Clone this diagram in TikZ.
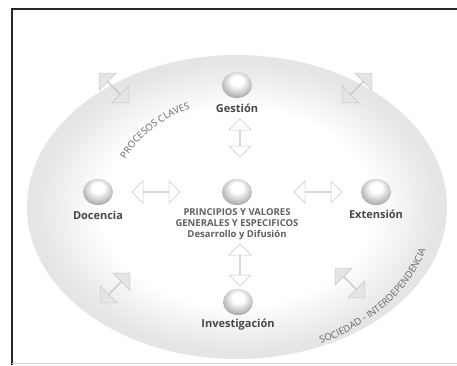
\documentclass[tikz,border=0pt]{standalone}
\usepackage{fontspec}
\setmainfont{Open Sans}
\usetikzlibrary{positioning,shapes.geometric,shapes.arrows,decorations.text}

% sphere highlight: white cap on top, grey towards the rim
\pgfdeclareradialshading{sphere}{\pgfpoint{0bp}{10bp}}{%
  color(0bp)=(white); color(10bp)=(white); color(24bp)=(gray!50);
  color(32bp)=(gray!80); color(50bp)=(gray!85)}
% white centre fading into the ring
\pgfdeclareradialshading{glowfade}{\pgfpoint{0bp}{0bp}}{%
  color(0bp)=(white); color(17bp)=(white); color(25bp)=(gray!20);
  color(50bp)=(gray!20)}

\tikzset{
  % ring and inner glow
  ring/.style    = {fill=gray!20, draw=none},
  glow/.style    = {shading=glowfade, draw=none},
  % shaded ball
  ball/.style    = {ellipse, minimum width=30pt, minimum height=26pt,
                    inner sep=0pt, shading=sphere},
  % text under a ball
  lbl/.style     = {font=\fontsize{11}{13}\selectfont\bfseries, text=black!72,
                    inner sep=0pt},
  % centre text block
  core/.style    = {font=\fontsize{9.5}{11}\selectfont\bfseries, text=black!62,
                    align=center, inner sep=0pt},
  % hollow double arrows
  dbl/.style     = {double arrow, draw=gray!45, fill=white, line width=0.5pt,
                    minimum height=42pt, minimum width=22pt,
                    double arrow head extend=7pt, inner sep=0pt},
  ringdbl/.style = {dbl, fill=gray!20, draw=gray!45, minimum height=42pt,
                    minimum width=24pt},
  % curved captions
  arctext/.style = {decorate, decoration={text along path, text align=center,
                    text color=black!60,
                    text={|\fontsize{9.5}{11}\selectfont|#1}}},
}

\begin{document}
\begin{tikzpicture}[x=1pt, y=1pt]
  \useasboundingbox (0,0) rectangle (457,365);

  % --- frame (left and top edges only, faint bottom) ---
  \draw[black!85, line width=1.6pt] (12,0) -- (12,356) -- (457,356);
  \draw[gray!35, line width=0.6pt] (12,2) -- (457,2);

  % --- background ring + white centre ---
  \coordinate (mid) at (237,158);
  \fill[ring] (mid) ellipse[x radius=210, y radius=152];
  \shade[glow] (mid) ellipse[x radius=200, y radius=144];

  % --- balls and their labels ---
  \node[ball] (gest) at (237,280) {};
  \node[lbl, below=6pt of gest] (gestl) {Gestión};
  \node[ball] (ctr) at (237,173) {};
  \node[ball] (doc) at (98,173) {};
  \node[lbl, anchor=north] (docl) at (98,154) {Docencia};
  \node[ball] (ext) at (376,173) {};
  \node[lbl, anchor=north] (extl) at (376,155) {Extensión};
  \node[ball] (inv) at (238,63) {};
  \node[lbl, anchor=north] (invl) at (238,46) {Investigación};

  \node[core, anchor=north] (core) at (237,157)
       {PRINCIPIOS Y VALORES\\GENERALES Y ESPECIFICOS\\Desarrollo y Difusión};

  % --- arrows between balls ---
  \node[dbl, rotate=90, minimum height=38pt] (aup) at (240,227) {};
  \node[dbl, rotate=90] (adn) at (240,100) {};
  \node[dbl, minimum height=48pt] (alf) at (156,173) {};
  \node[dbl, minimum height=48pt] (art) at (318,173) {};

  % --- arrows in the ring ---
  \node[ringdbl, rotate=-45] (dtl) at (114,277) {};
  \node[ringdbl, rotate=45] (dtr) at (357,277) {};
  \node[ringdbl, rotate=45] (dbl) at (115,77) {};
  \node[ringdbl, rotate=-45] (dbr) at (350,82) {};

  % --- curved captions ---
  \path[arctext={PROCESOS CLAVES}] (mid) ++(175:125 and 106)
       arc[start angle=175, end angle=93, x radius=125, y radius=106];
  \path[arctext={SOCIEDAD - INTERDEPENDENCIA}] (mid) ++(-84:197 and 151)
       arc[start angle=-84, end angle=8, x radius=197, y radius=151];

\end{tikzpicture}
\end{document}
